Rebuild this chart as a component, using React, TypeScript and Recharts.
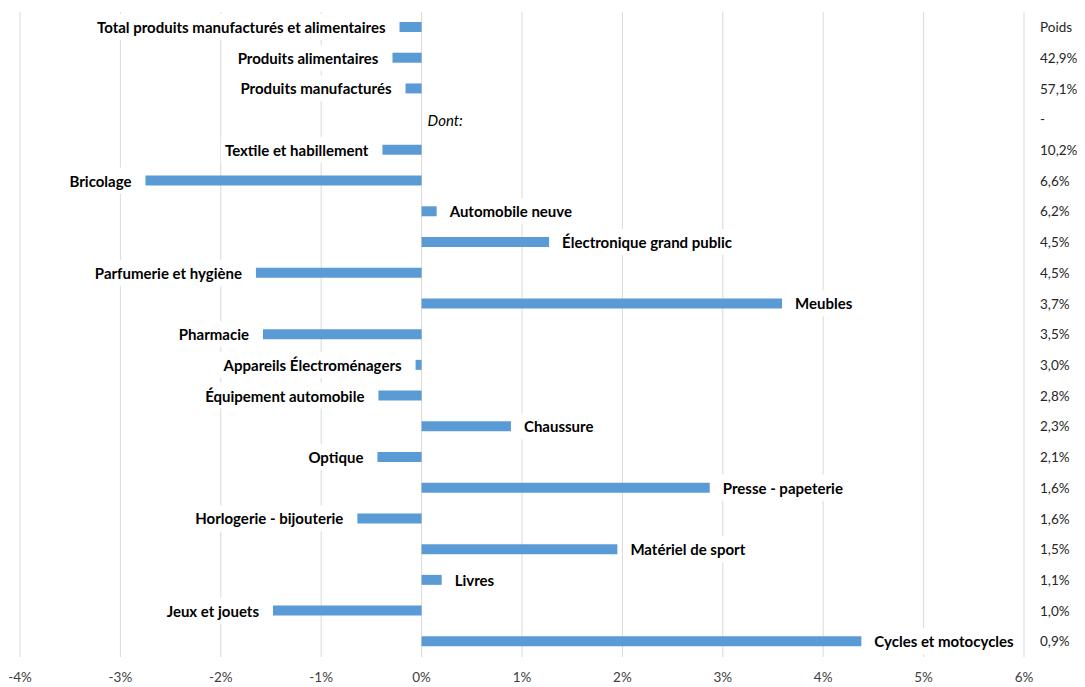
import { BarChart, Bar, XAxis, YAxis, CartesianGrid, LabelList, ReferenceDot } from 'recharts';

const categories = [
  'Total produits manufacturés et alimentaires',
  'Produits alimentaires',
  'Produits manufacturés',
  'Dont:',
  'Textile et habillement',
  'Bricolage',
  'Automobile neuve',
  'Électronique grand public',
  'Parfumerie et hygiène',
  'Meubles',
  'Pharmacie',
  'Appareils Électroménagers',
  'Équipement automobile',
  'Chaussure',
  'Optique',
  'Presse - papeterie',
  'Horlogerie - bijouterie',
  'Matériel de sport',
  'Livres',
  'Jeux et jouets',
  'Cycles et motocycles',
];

// variation en % (null : ligne de titre "Dont:")
const variations: (number | null)[] = [
  -0.22, -0.29, -0.16, null, -0.39, -2.75, 0.15, 1.27, -1.65, 3.59, -1.58,
  -0.06, -0.43, 0.89, -0.44, 2.87, -0.64, 1.95, 0.2, -1.48, 4.38,
];

const poids = [
  'Poids', '42,9%', '57,1%', '-', '10,2%', '6,6%', '6,2%', '4,5%', '4,5%',
  '3,7%', '3,5%', '3,0%', '2,8%', '2,3%', '2,1%', '1,6%', '1,6%', '1,5%',
  '1,1%', '1,0%', '0,9%',
];

const xTicks = [-4, -3, -2, -1, 0, 1, 2, 3, 4, 5, 6];

const data = categories.map((name, i) => ({ name, value: variations[i] }));

const FONT = 'Lato, "Open Sans", sans-serif';
const LABEL_SIZE = 15;

let ctx: CanvasRenderingContext2D | null = null;
function textWidth(text: string, font: string) {
  if (!ctx) ctx = document.createElement('canvas').getContext('2d');
  if (!ctx) return text.length * 7;
  ctx.font = font;
  return ctx.measureText(text).width;
}

function LabelBox({ text, tx, cy, anchor, italic }: any) {
  const weight = italic ? 'normal' : 'bold';
  const style = italic ? 'italic' : 'normal';
  const tw = textWidth(text, `${style} ${weight} ${LABEL_SIZE}px ${FONT}`);
  const rx = anchor === 'end' ? tx - tw - 4 : tx - 4;
  return (
    <g>
      <rect x={rx} y={cy - 13} width={tw + 8} height={26} fill="#fff" />
      <text
        x={tx}
        y={cy}
        textAnchor={anchor}
        dominantBaseline="central"
        fontFamily={FONT}
        fontSize={LABEL_SIZE}
        fontWeight={weight}
        fontStyle={style}
        fill="#000"
      >
        {text}
      </text>
    </g>
  );
}

function BarLabel(props: any) {
  const { x, y, width, height, value } = props;
  const name = String(value);
  const v = variations[categories.indexOf(name)] ?? 0;
  const cy = y + height / 2;
  const left = Math.min(x, x + width);
  const right = Math.max(x, x + width);
  if (v < 0) return <LabelBox text={name} tx={left - 14} cy={cy} anchor="end" />;
  return <LabelBox text={name} tx={right + 13} cy={cy} anchor="start" />;
}

function DontLabel(props: any) {
  const { viewBox } = props;
  const cx = viewBox.x + (viewBox.width || 0) / 2;
  const cy = viewBox.y + (viewBox.height || 0) / 2;
  return <LabelBox text="Dont:" tx={cx + 6} cy={cy} anchor="start" italic />;
}

export default function App() {
  return (
    <div style={{ width: 1077, height: 680, background: '#fff' }}>
      <BarChart
        width={1077}
        height={680}
        data={data}
        layout="vertical"
        margin={{ top: 4, right: 0, bottom: 0, left: 12 }}
        barSize={10}
      >
        <CartesianGrid horizontal={false} stroke="#d9d9d9" />
        <XAxis
          type="number"
          domain={[-4, 6]}
          ticks={xTicks}
          tickFormatter={(v: number) => `${v}%`}
          axisLine={false}
          tickLine={false}
          tickMargin={9}
          height={31}
          tick={{ fontSize: 13.5, fill: '#404040', fontFamily: FONT }}
          interval={0}
        />
        <YAxis
          type="category"
          dataKey="name"
          orientation="right"
          width={61}
          axisLine={false}
          tickLine={false}
          tickMargin={10}
          interval={0}
          tickFormatter={(_v: string, i: number) => poids[i]}
          tick={{ fontSize: 13.5, fill: '#262626', fontFamily: FONT, textAnchor: 'start' }}
        />
        <Bar dataKey="value" fill="#5b9bd5" isAnimationActive={false}>
          <LabelList dataKey="name" content={BarLabel} />
        </Bar>
        <ReferenceDot
          x={0}
          y="Dont:"
          r={0}
          fill="none"
          stroke="none"
          ifOverflow="visible"
          label={<DontLabel />}
        />
      </BarChart>
    </div>
  );
}
